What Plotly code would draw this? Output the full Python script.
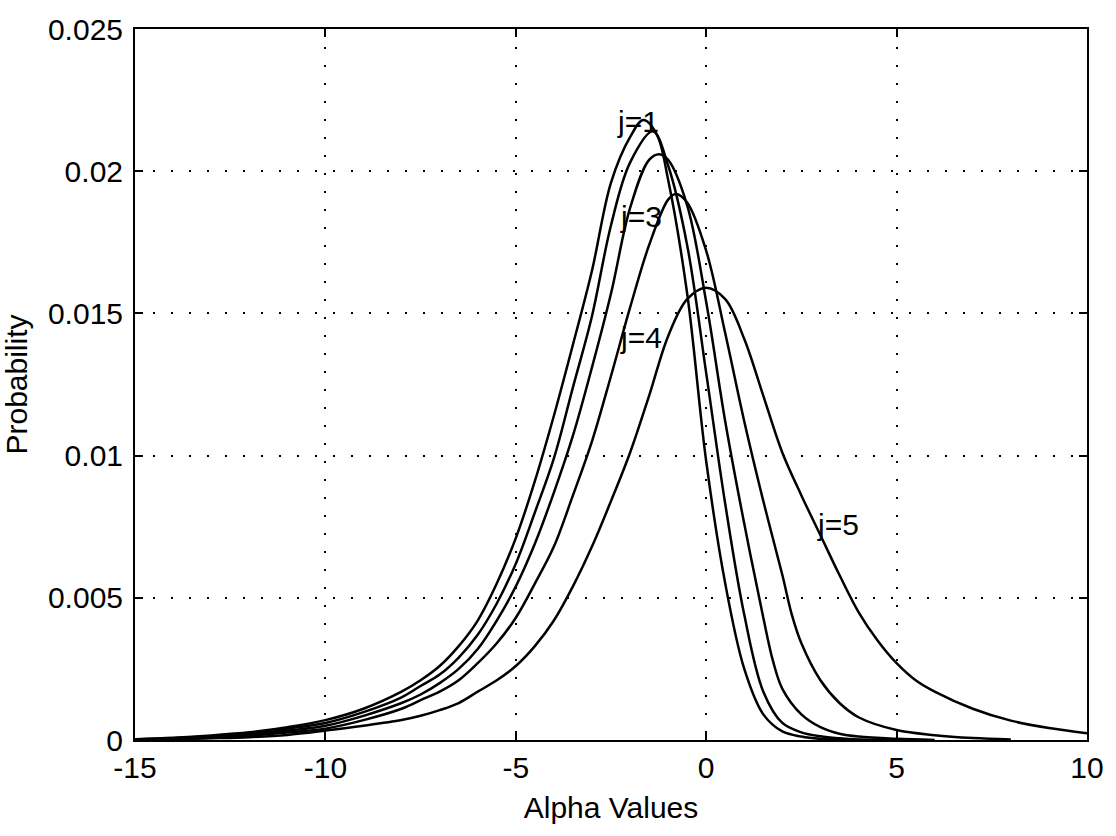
import plotly.graph_objects as go

# ---- data ----
x_j1 = [-15, -14, -13, -12, -11, -10, -9, -8, -7.5, -7, -6.5, -6, -5.5, -5, -4.5, -4, -3.5, -3, -2.5, -2, -1.65, -1.3, -1, -0.5, 0, 0.5, 1, 1.5, 2, 2.5, 3, 4, 5]
y_j1 = [0.00003, 0.00008, 0.00016, 0.00027, 0.00045, 0.0007, 0.0011, 0.0017, 0.0021, 0.0026, 0.0033, 0.0042, 0.0055, 0.0071, 0.0091, 0.0114, 0.0139, 0.0165, 0.0196, 0.0212, 0.0218, 0.0213, 0.0197, 0.0157, 0.0098, 0.0055, 0.0025, 0.0009, 0.0003, 0.00012, 0.00004, 0.0, 0.0]

x_j2 = [-15, -14, -13, -12, -11, -10, -9, -8, -7.5, -7, -6.5, -6, -5.5, -5, -4.5, -4, -3.5, -3, -2.5, -2, -1.4, -1, -0.5, 0, 0.5, 1, 1.5, 2, 2.5, 3, 3.5, 4, 5]
y_j2 = [0.00002, 0.00006, 0.00013, 0.00023, 0.0004, 0.0006, 0.00098, 0.0015, 0.0019, 0.0023, 0.0029, 0.0037, 0.0048, 0.0062, 0.0080, 0.0099, 0.0124, 0.0149, 0.0181, 0.0203, 0.0214, 0.0202, 0.0174, 0.0129, 0.0083, 0.0044, 0.0017, 0.0006, 0.00027, 0.00013, 0.00006, 0.00002, 0.0]

x_j3 = [-15, -14, -13, -12, -11, -10, -9, -8, -7.5, -7, -6.5, -6, -5.5, -5, -4.5, -4, -3.5, -3, -2.5, -2, -1.5, -1.23, -1, -0.5, 0, 0.5, 1, 1.5, 1.75, 2, 2.5, 3, 3.5, 4, 5, 6]
y_j3 = [0.00002, 0.00005, 0.0001, 0.0002, 0.00033, 0.0005, 0.00085, 0.0013, 0.0016, 0.0020, 0.0025, 0.0032, 0.0042, 0.0054, 0.0069, 0.0087, 0.0107, 0.0131, 0.0157, 0.0187, 0.0204, 0.0206, 0.0204, 0.0188, 0.0154, 0.0112, 0.0076, 0.0043, 0.0028, 0.0018, 0.0009, 0.00045, 0.00022, 0.00012, 0.00004, 0.0]

x_j4 = [-15, -14, -13, -12, -11, -10, -9, -8, -7.5, -7, -6.5, -6, -5.5, -5, -4.5, -4, -3.5, -3, -2.5, -2, -1.5, -1, -0.8, -0.5, 0, 0.5, 1, 1.5, 2, 2.25, 2.5, 3, 3.5, 4, 5, 6, 7, 8]
y_j4 = [0.00001, 0.00004, 0.00008, 0.00015, 0.00026, 0.0004, 0.0007, 0.0011, 0.0014, 0.0017, 0.0021, 0.0027, 0.0034, 0.0043, 0.0055, 0.0068, 0.0086, 0.0105, 0.0128, 0.0152, 0.0174, 0.0190, 0.0192, 0.0189, 0.0172, 0.0143, 0.0112, 0.0084, 0.0058, 0.0044, 0.0034, 0.0021, 0.0013, 0.0008, 0.00035, 0.00017, 0.00007, 0.00002]

x_j5 = [-15, -14, -13, -12, -11, -10, -9, -8, -7.5, -7, -6.5, -6, -5.5, -5, -4.5, -4, -3.5, -3, -2.5, -2, -1.5, -1, -0.5, 0, 0.5, 1, 1.5, 2, 2.5, 3, 3.5, 4, 4.5, 5, 5.5, 6, 7, 8, 9, 10]
y_j5 = [0.00001, 0.00003, 0.00006, 0.0001, 0.00018, 0.00033, 0.0005, 0.0007, 0.00085, 0.00105, 0.0013, 0.0017, 0.0021, 0.0026, 0.0033, 0.0042, 0.0054, 0.0068, 0.0084, 0.0101, 0.0121, 0.0142, 0.0155, 0.0159, 0.0155, 0.0141, 0.0121, 0.0101, 0.0086, 0.0072, 0.0058, 0.0045, 0.0035, 0.0027, 0.0021, 0.0017, 0.0011, 0.00068, 0.00042, 0.00024]

series = [("j=1", x_j1, y_j1), ("j=2", x_j2, y_j2), ("j=3", x_j3, y_j3),
          ("j=4", x_j4, y_j4), ("j=5", x_j5, y_j5)]

x_tickvals = [-15, -10, -5, 0, 5, 10]
x_ticktext = ["-15", "-10", "-5", "0", "5", "10"]
y_tickvals = [0, 0.005, 0.01, 0.015, 0.02, 0.025]
y_ticktext = ["0", "0.005", "0.01", "0.015", "0.02", "0.025"]

labels = [("j=1", -1.78, 0.02176), ("j=3", -1.70, 0.0184),
          ("j=4", -1.72, 0.01417), ("j=5", 3.47, 0.00756)]

FONT = "Liberation Sans, Arial, Helvetica, sans-serif"
FS = 30

fig = go.Figure()
for name, xs, ys in series:
    fig.add_trace(go.Scatter(x=xs, y=ys, mode="lines", name=name,
                             line=dict(color="black", width=2.5, shape="spline", smoothing=1.0),
                             showlegend=False))

for txt, lx, ly in labels:
    fig.add_annotation(x=lx, y=ly, text=txt, showarrow=False,
                       font=dict(family=FONT, size=FS, color="black"))

axis_common = dict(showline=True, linecolor="black", linewidth=2, mirror="allticks",
                   ticks="inside", ticklen=8, tickwidth=1.5, tickcolor="black",
                   showgrid=True, gridcolor="black", gridwidth=1.5, griddash="2px,16px",
                   zeroline=False, tickfont=dict(family=FONT, size=FS, color="black"))

fig.update_xaxes(range=[-15, 10], tickmode="array", tickvals=x_tickvals, ticktext=x_ticktext,
                 title=dict(text="Alpha Values", font=dict(family=FONT, size=FS, color="black"), standoff=14),
                 **axis_common)
fig.update_yaxes(range=[0, 0.025], tickmode="array", tickvals=y_tickvals, ticktext=y_ticktext,
                 ticklabelstandoff=4,
                 title=dict(text="Probability", font=dict(family=FONT, size=FS, color="black"), standoff=12),
                 **axis_common)

fig.update_layout(width=1116, height=836, margin=dict(l=135, r=24, t=21, b=96),
                  plot_bgcolor="white", paper_bgcolor="white",
                  font=dict(family=FONT, size=FS, color="black"))

fig.write_html("out.html")
